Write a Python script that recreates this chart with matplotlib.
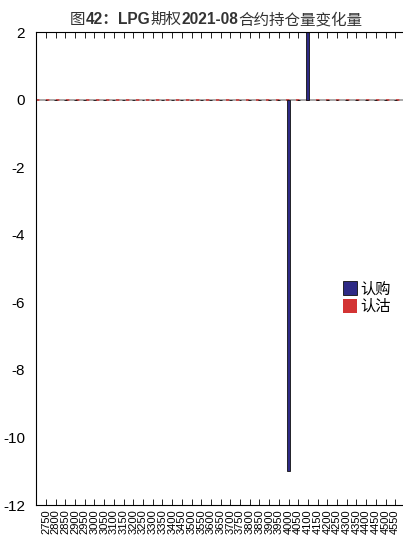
import numpy as np
import matplotlib
matplotlib.use('Agg')
import matplotlib.pyplot as plt

plt.rcParams['font.family'] = ['Liberation Sans', 'Noto Sans CJK SC', 'DejaVu Sans']
plt.rcParams['axes.unicode_minus'] = False

strikes = [str(s) for s in range(2750, 4551, 50)]
call_chg = [0] * len(strikes)
put_chg = [0] * len(strikes)
call_chg[strikes.index('4000')] = -11
call_chg[strikes.index('4100')] = 3

fig = plt.figure(figsize=(4.03, 5.39), dpi=100)
ax = fig.add_axes([36/403, 34/539, (403-36)/403, (505-32)/539])
x = np.arange(len(strikes))
w = 0.3
ax.axhline(0, color='#999999', lw=1.2, zorder=1)
ax.axhline(0, color='#d03a3a', lw=1.2, ls=(0, (2, 4)), zorder=1.5)
ax.bar(x, call_chg, width=w, color='#2e2a85', edgecolor='#111111', lw=0.6, label='认购', zorder=2)
ax.bar(x, put_chg, width=w, color='#d33434', edgecolor='#d33434', lw=0.0, label='认沽', zorder=2)
ax.set_xlim(-1.03, 36.8)
ax.set_ylim(-12, 2)
ax.set_yticks(range(-12, 3, 2))
ax.set_xticks(x)
ax.set_xticklabels(strikes, rotation=90, fontsize=8)
ax.tick_params(axis='x', direction='in', length=4, width=0.6, top=True, pad=3)
ax.tick_params(axis='y', length=0, labelsize=11, pad=8)
ax.spines['right'].set_visible(False)
for s in ['left', 'top', 'bottom']:
    ax.spines[s].set_linewidth(0.8)

ax.legend(loc='upper left', bbox_to_anchor=(0.82, 0.487), frameon=False,
          fontsize=11, handlelength=0.9, handleheight=1.1, handletextpad=0.2,
          labelspacing=0.15, borderaxespad=0)

# title with mixed weights
parts = [('图', 'normal'), ('42：', 'bold'), ('LPG', 'bold'), ('期权', 'normal'),
         ('2021-08', 'bold'), ('合约持仓量变化量', 'normal')]
t = fig.text(70/403, 1 - 24/539, parts[0][0], fontsize=11.2, color='#333333',
             fontweight=parts[0][1], va='baseline', ha='left')
for txt, wt in parts[1:]:
    t = ax.annotate(txt, xy=(1, 0), xycoords=t, va='bottom', ha='left',
                    fontsize=11.2, color='#333333', fontweight=wt)

fig.savefig('out.png', dpi=100)
